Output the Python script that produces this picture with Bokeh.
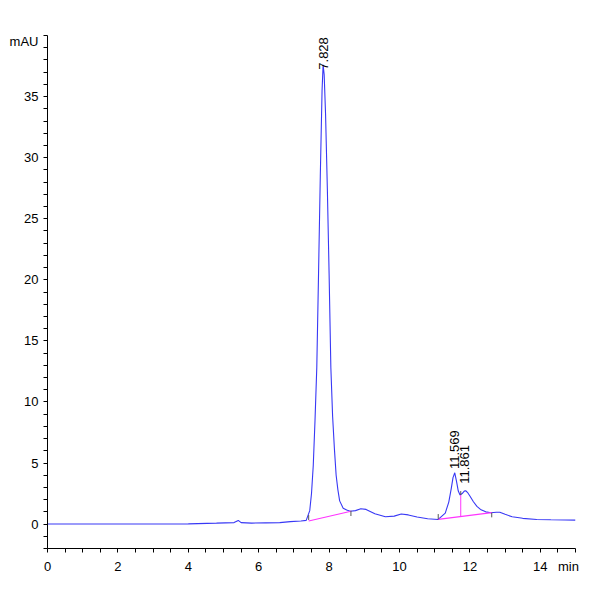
import math
from bokeh.plotting import figure
from bokeh.models import Range1d, FixedTicker, ColumnDataSource, LabelSet
from bokeh.core.properties import value
from bokeh.embed import file_html
from bokeh.resources import INLINE

# ---- data ----
rt = [0.0, 1.0, 2.0, 3.0, 4.0, 4.8, 5.3, 5.42, 5.5, 5.8, 6.2, 6.6, 6.9, 7.2,
      7.35, 7.45, 7.5, 7.55, 7.6, 7.65, 7.7, 7.75, 7.8, 7.83, 7.86, 7.9, 7.95,
      8.0, 8.05, 8.1, 8.15, 8.2, 8.25, 8.3, 8.4, 8.5, 8.6, 8.75, 8.9, 9.05,
      9.3, 9.6, 9.85, 10.05, 10.25, 10.5, 10.8, 11.1, 11.3, 11.4, 11.47,
      11.52, 11.57, 11.62, 11.67, 11.72, 11.78, 11.84, 11.88, 11.93, 12.0,
      12.1, 12.2, 12.3, 12.45, 12.6, 12.75, 12.85, 13.0, 13.2, 13.5, 13.9,
      14.3, 14.7, 15.0]
mau = [0.0, 0.0, 0.0, 0.0, 0.02, 0.08, 0.12, 0.3, 0.12, 0.08, 0.1, 0.12, 0.2, 0.25,
       0.3, 1.1, 2.5, 4.8, 8.5, 12.8, 20.5, 28.5, 35.5, 37.6, 36.8, 33.5, 27.5,
       20.5, 12.8, 8.8, 6.2, 4.0, 2.8, 1.9, 1.3, 1.15, 1.05, 1.1, 1.25, 1.2,
       0.85, 0.6, 0.65, 0.82, 0.75, 0.58, 0.44, 0.38, 0.9, 1.8, 2.9,
       3.8, 4.2, 3.5, 2.7, 2.38, 2.5, 2.7, 2.73, 2.6, 2.3,
       1.83, 1.45, 1.2, 1.0, 0.93, 0.97, 0.97, 0.8, 0.6, 0.47, 0.38,
       0.35, 0.33, 0.32]

peak_rt = [7.828, 11.569, 11.861]
peak_labels = ["7.828", "11.569", "11.861"]
peak_label_y = [37.2, 4.5, 3.3]

base_x0 = [7.42, 11.1]
base_y0 = [0.25, 0.38]
base_x1 = [8.62, 12.62]
base_y1 = [1.05, 0.93]

drop_x = [11.74]
drop_y0 = [0.61]
drop_y1 = [2.38]

event_x = [7.42, 8.62, 11.1, 11.74, 12.62]
event_y0 = [0.33, 0.66, 0.38, 2.38, 0.55]
event_y1 = [0.74, 1.09, 0.82, 2.7, 0.93]

x_major = [0, 2, 4, 6, 8, 10, 12, 14]
x_unit_pos = 14.8
x_unit = "min"
x_minor = [i * 0.5 for i in range(0, 31)]
y_major = [0, 5, 10, 15, 20, 25, 30, 35]
y_unit_pos = 39.5
y_unit = "mAU"
y_minor = list(range(-2, 41))

FONT = "Liberation Sans"

p = figure(width=592, height=592, output_backend="svg", toolbar_location=None,
           x_range=Range1d(0, 15), y_range=Range1d(-2, 40),
           min_border_left=47, min_border_right=17, min_border_top=35,
           min_border_bottom=44)
p.outline_line_color = None
p.xgrid.visible = False
p.ygrid.visible = False
p.background_fill_color = "white"

for ax in (p.xaxis[0], p.yaxis[0]):
    ax.axis_line_color = "black"
    ax.major_tick_line_color = None
    ax.minor_tick_line_color = "black"
    ax.major_tick_in = 0
    ax.major_tick_out = 4
    ax.minor_tick_in = 0
    ax.minor_tick_out = 4
    ax.major_label_text_font = FONT
    ax.major_label_text_font_size = "13px"
    ax.major_label_text_color = "black"

p.xaxis[0].ticker = FixedTicker(ticks=x_major + [x_unit_pos], minor_ticks=x_minor)
p.xaxis[0].major_label_overrides = {x_unit_pos: x_unit}
p.yaxis[0].ticker = FixedTicker(ticks=y_major + [y_unit_pos], minor_ticks=y_minor)
p.yaxis[0].major_label_overrides = {y_unit_pos: y_unit}
p.xaxis[0].major_label_standoff = 6
p.yaxis[0].major_label_standoff = 5

# chromatogram trace
p.line(rt, mau, line_color="#3838F5", line_width=1.1)

# integration baselines
p.segment(x0=base_x0, y0=base_y0, x1=base_x1, y1=base_y1,
          line_color="#FF33FF", line_width=1.2)
p.segment(x0=drop_x, y0=drop_y0, x1=drop_x, y1=drop_y1,
          line_color="#FF33FF", line_width=1.0)
# integration event ticks
p.segment(x0=event_x, y0=event_y0, x1=event_x, y1=event_y1,
          line_color="#555555", line_width=1.0)

# peak labels
src = ColumnDataSource(dict(x=peak_rt, y=peak_label_y, t=peak_labels))
p.add_layout(LabelSet(x="x", y="y", text="t", source=src, angle=math.pi / 2,
                      text_align="left", text_baseline="middle",
                      text_font=value(FONT), text_font_size=value("13px"),
                      text_color="black"))

open("out.html", "w").write(file_html(p, INLINE))
